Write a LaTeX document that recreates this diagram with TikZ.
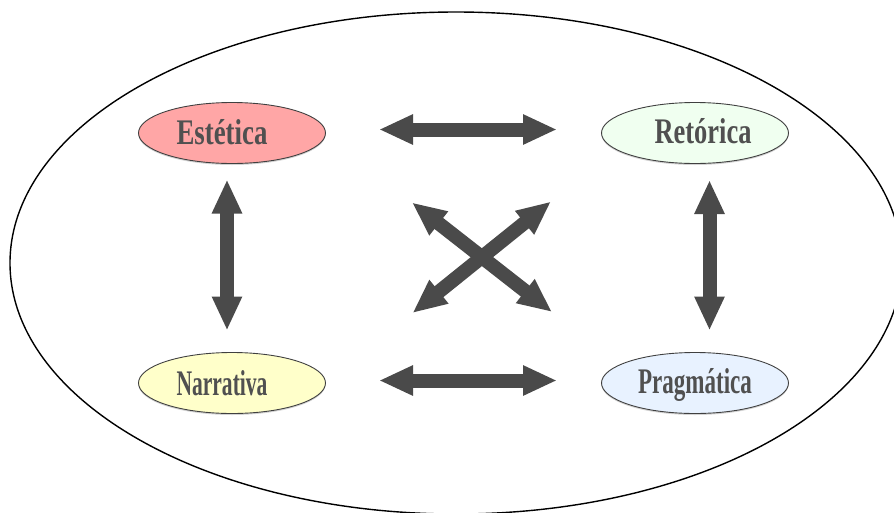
\documentclass[tikz,border=0pt]{standalone}
\usepackage{fontspec}
\usepackage{graphicx}
\setmainfont{Liberation Serif}
\usetikzlibrary{arrows.meta,shapes.geometric,shadows}
\definecolor{arr}{HTML}{4A4A4A}
\definecolor{txt}{HTML}{505050}
\definecolor{fE}{HTML}{FFA6A6}
\definecolor{fR}{HTML}{F0FFF0}
\definecolor{fN}{HTML}{FFFFCA}
\definecolor{fP}{HTML}{E8F2FF}
\begin{document}
\begin{tikzpicture}[x=1pt,y=-1pt,
  cat/.style={ellipse, draw=black!75, line width=0.9pt, minimum width=187pt, minimum height=61pt, inner sep=0pt,
    drop shadow={shadow xshift=0pt, shadow yshift=-1.5pt, opacity=0.35}},
  lbl/.style={font=\bfseries\fontsize{36}{36}\selectfont, text=txt, inner sep=0pt, anchor=base},
  dbl/.style={draw=arr, line width=14pt, {Triangle[width=28pt,length=34pt]}-{Triangle[width=28pt,length=34pt]}}
]
\useasboundingbox (0,0) rectangle (894,512);
\clip (0,0) rectangle (894,512);
\node[draw=black, ellipse, line width=1.4pt, minimum width=892pt, minimum height=502pt, inner sep=0pt] (outer) at (456,263) {};

\node[cat, fill=fE] (est) at (232,133) {};
\node[cat, fill=fR] (ret) at (695,133) {};
\node[cat, fill=fN] (nar) at (232,383) {};
\node[cat, fill=fP] (pra) at (695,383) {};

\node[lbl] (tEst) at (222,144) {\resizebox{91pt}{\height}{Estética}};
\node[lbl] (tRet) at (703,143) {\resizebox{97pt}{\height}{Retórica}};
\node[lbl] (tNar) at (222,395) {\resizebox{91pt}{\height}{Narrativa}};
\node[lbl] (tPra) at (695,393) {\resizebox{114pt}{\height}{Pragmática}};

\coordinate (h1a) at (379,129.5);
\coordinate (h1b) at (557,129.5);
\coordinate (h2a) at (379,380.5);
\coordinate (h2b) at (557,380.5);
\coordinate (v1a) at (227,179.5);
\coordinate (v1b) at (227,330.5);
\coordinate (v2a) at (709.5,180);
\coordinate (v2b) at (709.5,330.5);
\coordinate (d1a) at (412,202.5);
\coordinate (d1b) at (552,312);
\coordinate (d2a) at (551,201.5);
\coordinate (d2b) at (412.5,313);

\draw[dbl] (h1a) -- (h1b);
\draw[dbl] (h2a) -- (h2b);
\draw[dbl] (v1a) -- (v1b);
\draw[dbl] (v2a) -- (v2b);
\draw[dbl] (d1a) -- (d1b);
\draw[dbl] (d2a) -- (d2b);
\end{tikzpicture}
\end{document}
